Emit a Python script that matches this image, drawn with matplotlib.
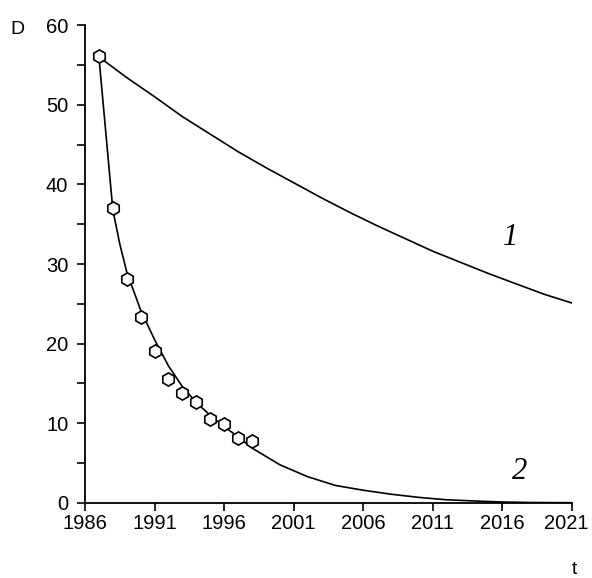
import matplotlib
matplotlib.use("Agg")
import matplotlib.pyplot as plt
import matplotlib.transforms as mtransforms
from matplotlib.ticker import MultipleLocator

# curve 1 (slow decay)
c1_years = [1987, 1989, 1991, 1993, 1995, 1997, 1999, 2001, 2003, 2005,
            2007, 2009, 2011, 2013, 2015, 2017, 2019, 2021]
c1_vals = [56.0, 53.4, 51.0, 48.5, 46.3, 44.1, 42.1, 40.2, 38.3, 36.5,
           34.8, 33.2, 31.6, 30.2, 28.8, 27.5, 26.2, 25.1]

# curve 2 (fast decay)
c2_years = [1987, 1988, 1988.5, 1989, 1990, 1991, 1992, 1993, 1994, 1995,
            1996, 1997, 1998, 2000, 2002, 2004, 2006, 2008, 2010, 2012,
            2014, 2016, 2018, 2021]
c2_vals = [56.0, 36.8, 32.5, 29.0, 24.2, 20.5, 17.2, 14.6, 12.6, 11.0,
           9.6, 8.3, 6.9, 4.8, 3.3, 2.2, 1.6, 1.1, 0.7, 0.4,
           0.25, 0.12, 0.06, 0.03]

# observed points
obs_years = [1987, 1988, 1989, 1990, 1991, 1992, 1993, 1994, 1995, 1996,
             1997, 1998]
obs_vals = [56.1, 37.0, 28.1, 23.4, 19.1, 15.6, 13.8, 12.7, 10.6, 9.9,
            8.2, 7.8]

x_ticks = [1986, 1991, 1996, 2001, 2006, 2011, 2016, 2021]

plt.rcParams['font.family'] = ['Liberation Sans', 'DejaVu Sans']

fig = plt.figure(figsize=(5.92, 5.78), dpi=100)
ax = fig.add_axes([0.1436, 0.1298, 0.8226, 0.8269])

ax.plot(c1_years, c1_vals, color='black', lw=1.2)
ax.plot(c2_years, c2_vals, color='black', lw=1.2)
ax.plot(obs_years, obs_vals, linestyle='none', marker='h', markersize=9.5,
        markerfacecolor='white', markeredgecolor='black', markeredgewidth=1.2)

ax.set_xlim(1986, 2021)
ax.set_ylim(0, 60)
ax.set_xticks(x_ticks)
ax.yaxis.set_major_locator(MultipleLocator(10))
ax.yaxis.set_minor_locator(MultipleLocator(5))

for s in ['top', 'right']:
    ax.spines[s].set_visible(False)
for s in ['left', 'bottom']:
    ax.spines[s].set_linewidth(1.3)

ax.tick_params(which='both', direction='out', length=6, width=1.2,
               labelsize=14.5, pad=6)
ax.tick_params(axis='x', pad=2)

# keep the last year label inside the canvas
last = ax.get_xticklabels()[-1]
last.set_transform(last.get_transform() +
                   mtransforms.ScaledTranslation(-4 / 72, 0, fig.dpi_scale_trans))

ax.text(-0.138, 0.99, 'D', transform=ax.transAxes, fontsize=14,
        ha='center', va='center')
ax.text(1.005, -0.14, 't', transform=ax.transAxes, fontsize=14,
        ha='center', va='center')

ax.text(2016.6, 33.3, '1', fontsize=22, style='italic',
        family='Liberation Serif', ha='center', va='center')
ax.text(2017.2, 4.0, '2', fontsize=22, style='italic',
        family='Liberation Serif', ha='center', va='center')

fig.savefig('out.png', dpi=100)
